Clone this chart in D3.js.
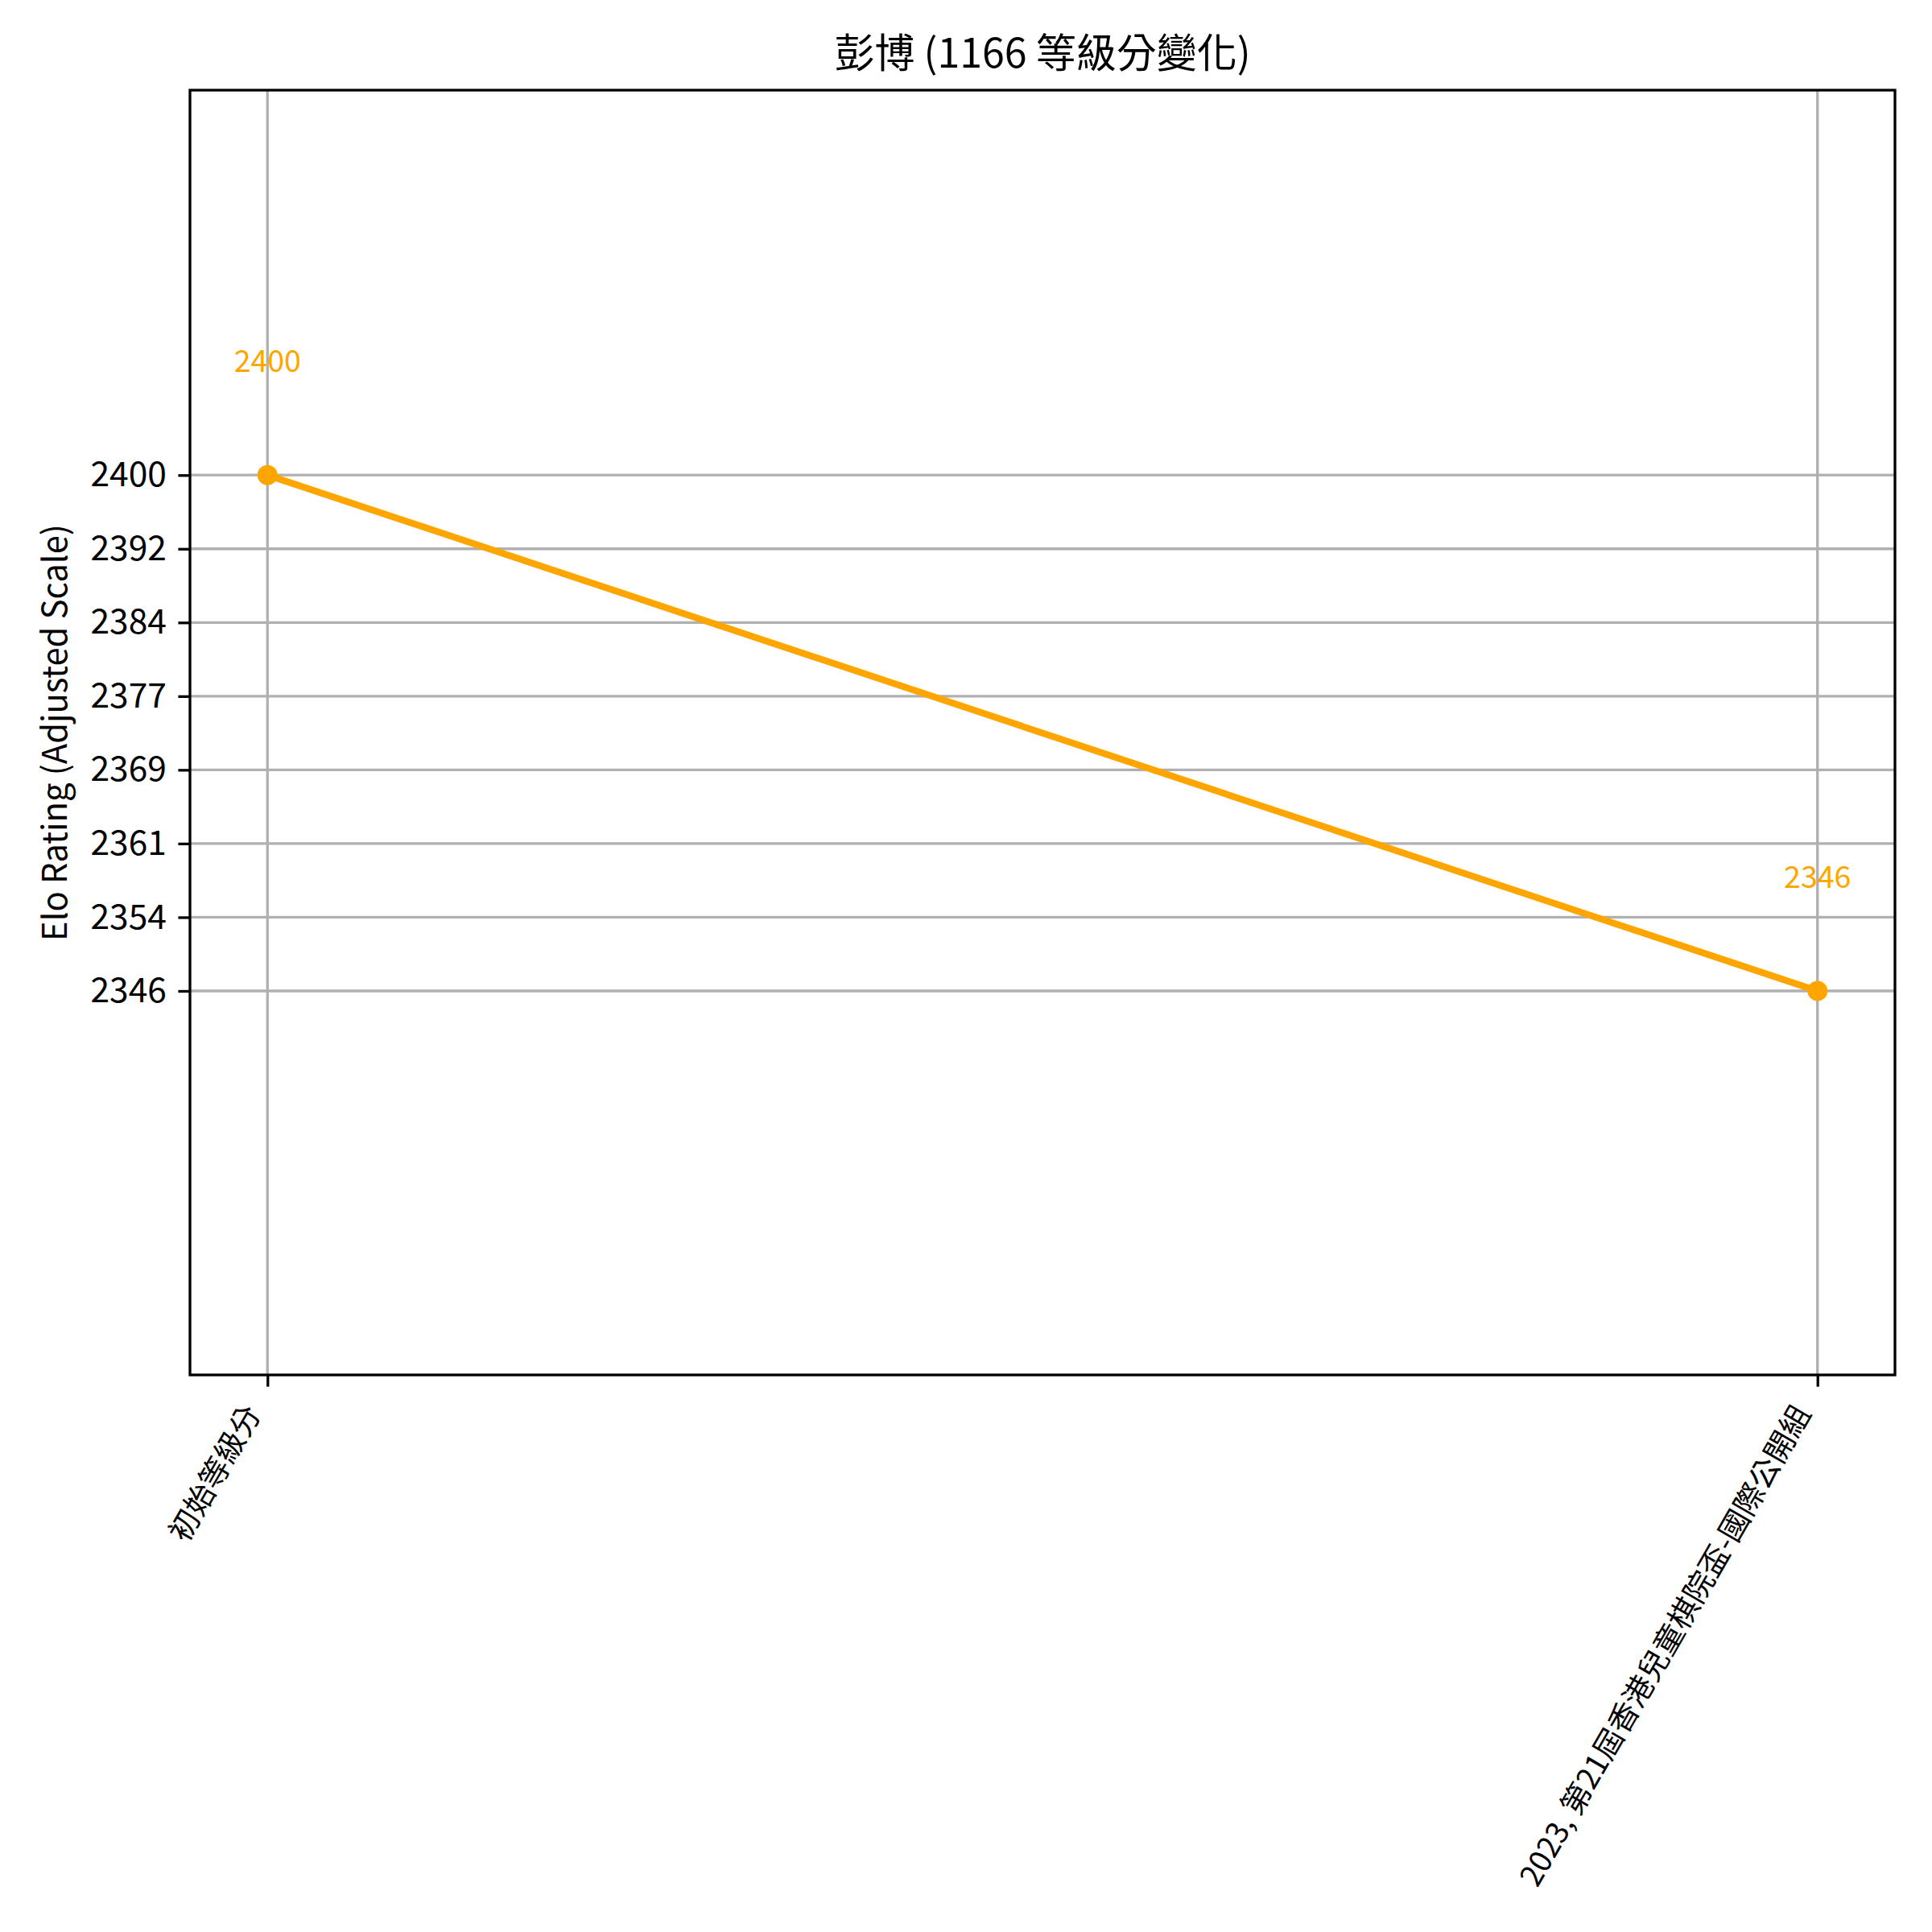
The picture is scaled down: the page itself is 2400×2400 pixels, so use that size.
<!DOCTYPE html>
<html>
<head>
<meta charset="utf-8">
<script src="https://cdn.jsdelivr.net/npm/d3@7"></script>
<style>
  html, body { margin: 0; padding: 0; background: #fff; }
  text { font-family: "Noto Sans CJK TC", "Noto Sans", sans-serif; }
</style>
</head>
<body>
<script>
const categories = ["初始等級分", "2023, 第21屆香港兒童棋院盃-國際公開組"];
const ratings = [2400, 2346];
const yTickValues = [2346, 2353.714, 2361.429, 2369.143, 2376.857, 2384.571, 2392.286, 2400];
const yTickLabels = ["2346", "2354", "2361", "2369", "2377", "2384", "2392", "2400"];
const titleText = "彭博 (1166 等級分變化)";
const yLabelText = "Elo Rating (Adjusted Scale)";

const W = 2400, H = 2400;
const margin = { left: 236, right: 46, top: 112, bottom: 692 };
const lineColor = "#FFA500";
const gridColor = "#b0b0b0";

const svg = d3.select("body").append("svg")
  .attr("width", W).attr("height", H)
  .attr("xmlns", "http://www.w3.org/2000/svg");
svg.append("rect").attr("width", W).attr("height", H).attr("fill", "#fff");

const x = d3.scalePoint().domain(categories).range([margin.left, W - margin.right]).padding(0.05);
const y = d3.scaleLinear().domain([2305.8, 2440.3]).range([H - margin.bottom, margin.top]);

const data = categories.map((c, i) => ({ c, v: ratings[i] }));

// Grid
const grid = svg.append("g");
grid.selectAll("line.h").data(yTickValues).join("line")
  .attr("x1", margin.left).attr("x2", W - margin.right)
  .attr("y1", d => y(d)).attr("y2", d => y(d))
  .attr("stroke", gridColor).attr("stroke-width", 3.3);
grid.selectAll("line.v").data(categories).join("line")
  .attr("y1", margin.top).attr("y2", H - margin.bottom)
  .attr("x1", d => x(d)).attr("x2", d => x(d))
  .attr("stroke", gridColor).attr("stroke-width", 3.3);

// Line
svg.append("path").datum(data)
  .attr("d", d3.line().x(d => x(d.c)).y(d => y(d.v)))
  .attr("fill", "none").attr("stroke", lineColor).attr("stroke-width", 8.3)
  .attr("stroke-linejoin", "round").attr("stroke-linecap", "butt");
svg.selectAll("circle.pt").data(data).join("circle")
  .attr("cx", d => x(d.c)).attr("cy", d => y(d.v)).attr("r", 12.5)
  .attr("fill", lineColor);

// Annotations
svg.selectAll("text.ann").data(data).join("text")
  .attr("x", d => x(d.c)).attr("y", d => y(d.v) - 128)
  .attr("text-anchor", "middle").attr("font-size", 37.5)
  .attr("fill", lineColor).attr("font-family", "'Noto Sans', sans-serif")
  .text(d => d.v);

// Axes
const yAxis = d3.axisLeft(y).tickValues(yTickValues)
  .tickFormat((d, i) => yTickLabels[i]).tickSize(14.6).tickPadding(14.6);
const gy = svg.append("g").attr("transform", `translate(${margin.left},0)`).call(yAxis);
gy.select(".domain").remove();
gy.selectAll(".tick line").attr("stroke", "#000").attr("stroke-width", 3.3);
gy.selectAll(".tick text").attr("font-size", 42.5).attr("fill", "#000")
  .attr("font-family", "'Noto Sans CJK TC', sans-serif");

const xAxis = d3.axisBottom(x).tickSize(14.6).tickFormat(() => "");
const gx = svg.append("g").attr("transform", `translate(0,${H - margin.bottom})`).call(xAxis);
gx.select(".domain").remove();
gx.selectAll(".tick line").attr("stroke", "#000").attr("stroke-width", 3.3);

// Rotated x labels (rotation 60, ha right, va top)
const xfs = 37.5;
const y0 = H - margin.bottom + 14.6 + 14.6;
const Hbox = 1.2 * xfs, desc = 0.22 * xfs;
const cos60 = 0.5, sin60 = Math.sqrt(3) / 2;
svg.selectAll("text.xl").data(categories).join("text")
  .attr("class", "xl")
  .attr("font-size", xfs).attr("text-anchor", "end").attr("fill", "#000")
  .attr("transform", d => {
    const ex = x(d) - sin60 * desc;
    const ey = y0 + cos60 * Hbox - cos60 * desc;
    return `translate(${ex},${ey}) rotate(-60)`;
  })
  .text(d => d);

// Spines
svg.append("rect")
  .attr("x", margin.left).attr("y", margin.top)
  .attr("width", W - margin.left - margin.right)
  .attr("height", H - margin.top - margin.bottom)
  .attr("fill", "none").attr("stroke", "#000").attr("stroke-width", 3.3);

// Title
svg.append("text").attr("x", (margin.left + W - margin.right) / 2).attr("y", 84)
  .attr("text-anchor", "middle").attr("font-size", 50).attr("fill", "#000")
  .text(titleText);

// Y label
svg.append("text")
  .attr("transform", `translate(83,${(margin.top + H - margin.bottom) / 2}) rotate(-90)`)
  .attr("text-anchor", "middle").attr("font-size", 41.7).attr("fill", "#000")
  .text(yLabelText);
</script>
</body>
</html>
